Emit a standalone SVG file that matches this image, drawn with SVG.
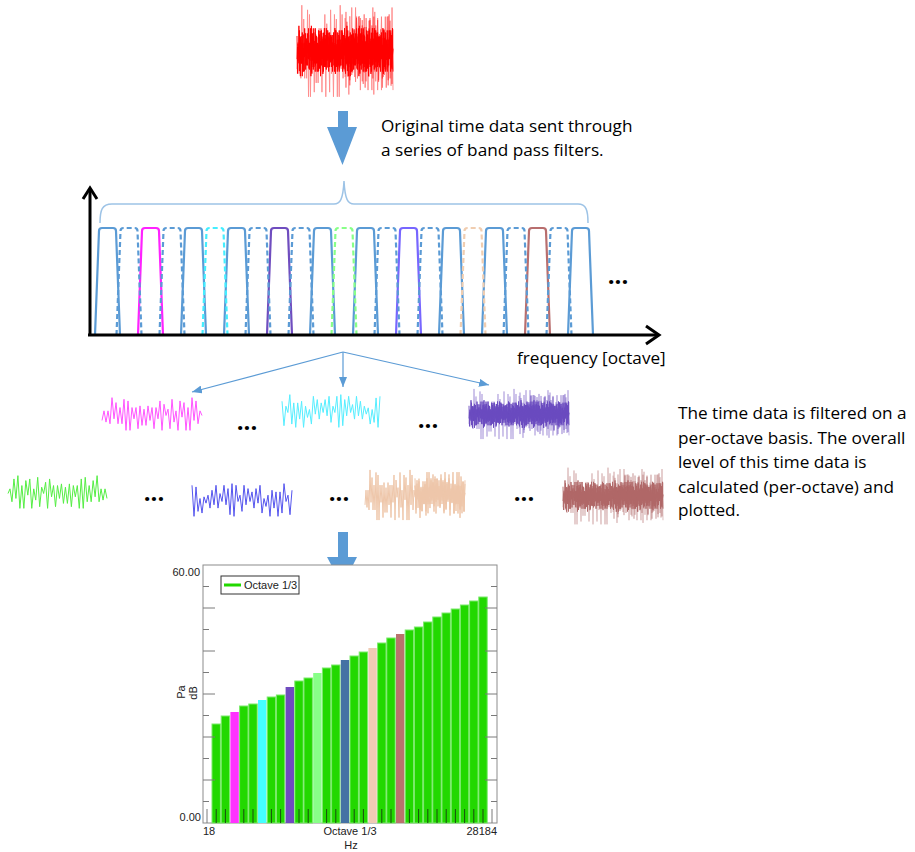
<svg xmlns="http://www.w3.org/2000/svg" xmlns:xlink="http://www.w3.org/1999/xlink" width="915" height="852" viewBox="0 0 915 852">
<style>
.cap{font-family:"Open Sans","Noto Sans",sans-serif;font-size:17.2px;fill:#000}
.dots{font-family:"Open Sans",sans-serif;font-size:24px;font-weight:bold;fill:#000;text-anchor:middle}
.ax{font-family:"Liberation Sans",Arial,sans-serif;font-size:11px;fill:#222}
.flt{fill:none;stroke-width:2.2;stroke-linejoin:round}
.dash{stroke-dasharray:5 3}
.wv{fill:none;stroke-width:1}
.bar{fill:#22D800;stroke:#7BEA6B;stroke-width:1}
.tk{stroke:#1A4A10;stroke-width:1}
.gt{stroke:#7a7a7a;stroke-width:1}
.big{fill:#5B9BD5}
.conn{stroke:#5B9BD5;stroke-width:1.2;fill:none}
</style>
<defs>
<marker id="ah" markerUnits="userSpaceOnUse" markerWidth="10" markerHeight="8" refX="10" refY="4" orient="auto">
<path d="M0,0 L10,4 L0,8 z" fill="#5B9BD5"/>
</marker>
<path id="flt" d="M-4,107 L0,3 Q0,0 3,0 L14,0 Q17,0 17,3 L21,107"/>
<path id="w1" vector-effect="non-scaling-stroke" d="M0,4.3 L2,-2.1 4,5.4 6,-2.1 8,6.5 10,-10.9 12,3.2 14,-7.6 16,6.5 18,-4.3 20,6.5 22,-9.8 24,10.9 26,-8.7 28,10.9 30,-4.3 32,3.2 34,-4.3 36,9.8 38,-5.4 40,7.6 42,-3.2 44,7.6 46,-5.4 48,4.3 50,-4.3 52,9.8 54,-4.3 56,3.2 58,-8.7 60,10.9 62,-6.5 64,1 66,-3.2 68,9.8 70,-9.8 72,5.4 74,-2.1 76,10.9 78,-8.7 80,2.1 82,-7.6 84,10.9 86,-4.3 88,10.9 90,-10.9 92,4.3 94,-8.7 96,6.5 98,-2.1 100,1"/>
<path id="w2" vector-effect="non-scaling-stroke" d="M0,-6.5 L2,9.8 4,-3.2 6,1 8,-10.9 10,8.7 12,-5.4 14,10.9 16,-5.4 18,5.4 20,-6.5 22,10.9 24,-3.2 26,4.3 28,-1 30,8.7 32,-9.8 34,2.1 36,-7.6 38,5.4 40,-5.4 42,1 44,-7.6 46,3.2 48,-9.8 50,7.6 52,-3.2 54,1 56,-9.8 58,10.9 60,-10.9 62,9.8 64,-7.6 66,3.2 68,-9.8 70,1 72,-4.3 74,5.4 76,-9.8 78,3.2 80,-6.5 82,5.4 84,-3.2 86,2.1 88,-2.1 90,8.7 92,-1 94,7.6 96,-8.7 98,10.9 100,-9.8"/>
<g id="dense" fill="none">
<use xlink:href="#w1" transform="translate(0,0) scale(0.5,2)" opacity="0.45"/>
<use xlink:href="#w2" transform="translate(50,0) scale(0.5,-1.9)" opacity="0.45"/>
<use xlink:href="#w2" transform="translate(100,0) scale(-0.5,1.6)" opacity="0.5"/>
<use xlink:href="#w1" transform="translate(50,0) scale(0.5,-1.5)" opacity="0.5"/>
<use xlink:href="#w1" transform="scale(0.25,0.9)"/>
<use xlink:href="#w1" transform="translate(25,0) scale(0.25,-0.9)"/>
<use xlink:href="#w1" transform="translate(50,0) scale(0.25,0.9)"/>
<use xlink:href="#w1" transform="translate(75,0) scale(0.25,-0.9)"/>
<use xlink:href="#w2" transform="scale(0.25,1.1)"/>
<use xlink:href="#w2" transform="translate(25,0) scale(0.25,-1.0)"/>
<use xlink:href="#w2" transform="translate(50,0) scale(0.25,1.1)"/>
<use xlink:href="#w2" transform="translate(75,0) scale(0.25,-1.0)"/>
<use xlink:href="#w1" transform="translate(12,0) scale(0.2,0.7)"/>
<use xlink:href="#w2" transform="translate(32,0) scale(0.2,-0.7)"/>
<use xlink:href="#w1" transform="translate(52,0) scale(0.2,-0.7)"/>
<use xlink:href="#w2" transform="translate(72,0) scale(0.2,0.7)"/>
</g>
<g id="sparse" fill="none">
<use xlink:href="#w1" transform="scale(0.5,2.3)"/>
<use xlink:href="#w1" transform="translate(50,0) scale(0.5,-2.1)"/>
<use xlink:href="#w2" transform="translate(100,0) scale(-0.5,1.7)"/>
<use xlink:href="#w2" transform="translate(50,0) scale(0.5,1.5)"/>
</g>
</defs>

<g id="source-signal">
<use xlink:href="#dense" transform="translate(297,51) scale(0.96,2.1)" stroke="#FF0000" stroke-width="0.9"/>
</g>

<g id="arrow-1"><polygon class="big" points="338,111 348,111 348,127 357,127 342.5,165 327,127 338,127"/></g>
<g id="caption-1">
<text class="cap" x="381" y="132">Original time data sent through</text>
<text class="cap" x="381" y="156">a series of band pass filters.</text>
</g>

<g id="filter-bank">
<path d="M100,223 C100,210 102,204 112,204 L334,204 C340,204 343,200 344,181 C345,200 348,204 354,204 L578,204 C586,204 588,210 588,223" fill="none" stroke="#9DC3E6" stroke-width="1.5"/>
<g class="flt" stroke="#5B9BD5">
<use xlink:href="#flt" x="99" y="228"/>
<use xlink:href="#flt" x="142" y="228" stroke="#FF22FF"/>
<use xlink:href="#flt" x="185" y="228"/>
<use xlink:href="#flt" x="228" y="228"/>
<use xlink:href="#flt" x="271" y="228" stroke="#6F4DBF"/>
<use xlink:href="#flt" x="314" y="228"/>
<use xlink:href="#flt" x="357" y="228"/>
<use xlink:href="#flt" x="400" y="228" stroke="#7766FF"/>
<use xlink:href="#flt" x="443" y="228"/>
<use xlink:href="#flt" x="486" y="228"/>
<use xlink:href="#flt" x="529" y="228" stroke="#B86E6E"/>
<use xlink:href="#flt" x="572" y="228"/>
</g>
<g class="flt dash" stroke="#5B9BD5">
<use xlink:href="#flt" x="120.5" y="228"/>
<use xlink:href="#flt" x="163.5" y="228"/>
<use xlink:href="#flt" x="206.5" y="228" stroke="#44EEFF"/>
<use xlink:href="#flt" x="249.5" y="228"/>
<use xlink:href="#flt" x="292.5" y="228"/>
<use xlink:href="#flt" x="335.5" y="228" stroke="#88FF88"/>
<use xlink:href="#flt" x="378.5" y="228"/>
<use xlink:href="#flt" x="421.5" y="228"/>
<use xlink:href="#flt" x="464.5" y="228" stroke="#F0CDB0"/>
<use xlink:href="#flt" x="507.5" y="228"/>
<use xlink:href="#flt" x="550.5" y="228"/>
</g>
<g fill="none" stroke="#000" stroke-width="3">
<line x1="90" y1="336" x2="90" y2="189"/>
<polyline points="83,199 90,188 97,199"/>
<line x1="88" y1="335" x2="658" y2="335"/>
<polyline points="646,326 659,335 646,344"/>
</g>
<text class="dots" x="618" y="284">...</text>
<text class="cap" x="517" y="364">frequency [octave]</text>
</g>

<g id="connectors">
<line class="conn" x1="343" y1="352" x2="192" y2="392" marker-end="url(#ah)"/>
<line class="conn" x1="343" y1="352" x2="343" y2="387" marker-end="url(#ah)"/>
<line class="conn" x1="343" y1="352" x2="489" y2="385" marker-end="url(#ah)"/>
</g>

<g id="filtered-signals">
<use xlink:href="#w1" class="wv" transform="translate(102,414) scale(1,1.5)" stroke="#FF55FF"/>
<text class="dots" x="247" y="430">...</text>
<use xlink:href="#w2" class="wv" transform="translate(282,411) scale(0.98,1.5)" stroke="#55EEFF"/>
<text class="dots" x="428" y="428">...</text>
<use xlink:href="#dense" transform="translate(469,414) scale(1,1.15)" stroke="#6A4BBF" stroke-width="0.9"/>

<use xlink:href="#w1" class="wv" transform="translate(107,492) scale(-0.99,1.5)" stroke="#55EE44"/>
<text class="dots" x="154" y="501">...</text>
<use xlink:href="#w2" class="wv" transform="translate(292,500) scale(-1,1.5)" stroke="#5555EE"/>
<text class="dots" x="339" y="501">...</text>
<use xlink:href="#sparse" transform="translate(365,495)" stroke="#E9B48E" stroke-width="1" opacity="0.75"/>
<text class="dots" x="524" y="501">...</text>
<use xlink:href="#dense" transform="translate(563,496) scale(1,1.3)" stroke="#B06868" stroke-width="0.9"/>
</g>

<g id="caption-2">
<text class="cap" x="678" y="419">The time data is filtered on a</text>
<text class="cap" x="678" y="444">per-octave basis. The overall</text>
<text class="cap" x="678" y="468">level of this time data is</text>
<text class="cap" x="678" y="493">calculated (per-octave) and</text>
<text class="cap" x="678" y="516">plotted.</text>
</g>

<g id="arrow-2"><polygon class="big" points="338,532 348,532 348,557 357,557 342.5,586 327,557 338,557"/></g>

<g id="chart">
<rect x="203" y="565" width="294" height="258" fill="#fff" stroke="#8c8c8c" stroke-width="1"/>
<g id="bars">
<rect class="bar" x="212" y="724" width="8.4" height="99"/>
<rect class="bar" x="221.2" y="716" width="8.4" height="107"/>
<rect x="230.4" y="712" width="8.4" height="111" fill="#FF33FF"/>
<rect class="bar" x="239.6" y="706" width="8.4" height="117"/>
<rect class="bar" x="248.8" y="704" width="8.4" height="119"/>
<rect x="258" y="700" width="8.4" height="123" fill="#44FFFF"/>
<rect class="bar" x="267.2" y="697" width="8.4" height="126"/>
<rect class="bar" x="276.4" y="695" width="8.4" height="128"/>
<rect x="285.6" y="687" width="8.4" height="136" fill="#6F4CBF"/>
<rect class="bar" x="294.8" y="681" width="8.4" height="142"/>
<rect class="bar" x="304" y="678" width="8.4" height="145"/>
<rect x="313.2" y="673" width="8.4" height="150" fill="#88FF88"/>
<rect class="bar" x="322.4" y="668" width="8.4" height="155"/>
<rect class="bar" x="331.6" y="665" width="8.4" height="158"/>
<rect x="340.8" y="660" width="8.4" height="163" fill="#4472A4"/>
<rect class="bar" x="350" y="656" width="8.4" height="167"/>
<rect class="bar" x="359.2" y="652" width="8.4" height="171"/>
<rect x="368.4" y="648" width="8.4" height="175" fill="#EFCBB5"/>
<rect class="bar" x="377.6" y="643" width="8.4" height="180"/>
<rect class="bar" x="386.8" y="638" width="8.4" height="185"/>
<rect x="396" y="634" width="8.4" height="189" fill="#B9736D"/>
<rect class="bar" x="405.2" y="630" width="8.4" height="193"/>
<rect class="bar" x="414.4" y="627" width="8.4" height="196"/>
<rect class="bar" x="423.6" y="622" width="8.4" height="201"/>
<rect class="bar" x="432.8" y="617" width="8.4" height="206"/>
<rect class="bar" x="442" y="613" width="8.4" height="210"/>
<rect class="bar" x="451.2" y="609" width="8.4" height="214"/>
<rect class="bar" x="460.4" y="605" width="8.4" height="218"/>
<rect class="bar" x="469.6" y="601" width="8.4" height="222"/>
<rect class="bar" x="478.8" y="597" width="8.4" height="226"/>
</g>
<g class="tk">
<line x1="216.2" y1="809" x2="216.2" y2="823"/>
<line x1="225.4" y1="809" x2="225.4" y2="823"/>
<line x1="243.8" y1="809" x2="243.8" y2="823"/>
<line x1="253" y1="809" x2="253" y2="823"/>
<line x1="271.4" y1="809" x2="271.4" y2="823"/>
<line x1="280.6" y1="809" x2="280.6" y2="823"/>
<line x1="299" y1="809" x2="299" y2="823"/>
<line x1="308.2" y1="809" x2="308.2" y2="823"/>
<line x1="326.6" y1="809" x2="326.6" y2="823"/>
<line x1="335.8" y1="809" x2="335.8" y2="823"/>
<line x1="354.2" y1="809" x2="354.2" y2="823"/>
<line x1="363.4" y1="809" x2="363.4" y2="823"/>
<line x1="381.8" y1="809" x2="381.8" y2="823"/>
<line x1="391" y1="809" x2="391" y2="823"/>
<line x1="409.4" y1="809" x2="409.4" y2="823"/>
<line x1="418.6" y1="809" x2="418.6" y2="823"/>
<line x1="427.8" y1="809" x2="427.8" y2="823"/>
<line x1="437" y1="809" x2="437" y2="823"/>
<line x1="446.2" y1="809" x2="446.2" y2="823"/>
<line x1="455.4" y1="809" x2="455.4" y2="823"/>
<line x1="464.6" y1="809" x2="464.6" y2="823"/>
<line x1="473.8" y1="809" x2="473.8" y2="823"/>
<line x1="483" y1="809" x2="483" y2="823"/>
</g>
<g class="gt">
<line x1="207" y1="809" x2="207" y2="823"/>
<line x1="492" y1="809" x2="492" y2="823"/>
<line x1="203" y1="586.5" x2="209" y2="586.5"/>
<line x1="203" y1="608" x2="215" y2="608"/>
<line x1="203" y1="629.5" x2="209" y2="629.5"/>
<line x1="203" y1="651" x2="215" y2="651"/>
<line x1="203" y1="672.5" x2="209" y2="672.5"/>
<line x1="203" y1="694" x2="215" y2="694"/>
<line x1="203" y1="715.5" x2="209" y2="715.5"/>
<line x1="203" y1="737" x2="215" y2="737"/>
<line x1="203" y1="758.5" x2="209" y2="758.5"/>
<line x1="203" y1="780" x2="215" y2="780"/>
<line x1="203" y1="801.5" x2="209" y2="801.5"/>
<line x1="497" y1="586.5" x2="491" y2="586.5"/>
<line x1="497" y1="608" x2="485" y2="608"/>
<line x1="497" y1="629.5" x2="491" y2="629.5"/>
<line x1="497" y1="651" x2="485" y2="651"/>
<line x1="497" y1="672.5" x2="491" y2="672.5"/>
<line x1="497" y1="694" x2="485" y2="694"/>
<line x1="497" y1="715.5" x2="491" y2="715.5"/>
<line x1="497" y1="737" x2="485" y2="737"/>
<line x1="497" y1="758.5" x2="491" y2="758.5"/>
<line x1="497" y1="780" x2="485" y2="780"/>
<line x1="497" y1="801.5" x2="491" y2="801.5"/>
</g>
<g id="legend">
<rect x="221" y="576" width="78" height="18" fill="#fff" stroke="#333" stroke-width="1"/>
<line x1="224" y1="585" x2="241" y2="585" stroke="#22D800" stroke-width="3"/>
<text class="ax" x="244" y="589">Octave 1/3</text>
</g>
<text class="ax" x="200" y="576" text-anchor="end">60.00</text>
<text class="ax" x="201" y="821" text-anchor="end">0.00</text>
<text class="ax" x="203" y="835">18</text>
<text class="ax" x="350" y="835" text-anchor="middle">Octave 1/3</text>
<text class="ax" x="497" y="835" text-anchor="end">28184</text>
<text class="ax" x="351" y="849" text-anchor="middle">Hz</text>
<text class="ax" transform="translate(185,692) rotate(-90)" text-anchor="middle">Pa</text>
<text class="ax" transform="translate(197,693) rotate(-90)" text-anchor="middle">dB</text>
</g>
</svg>
